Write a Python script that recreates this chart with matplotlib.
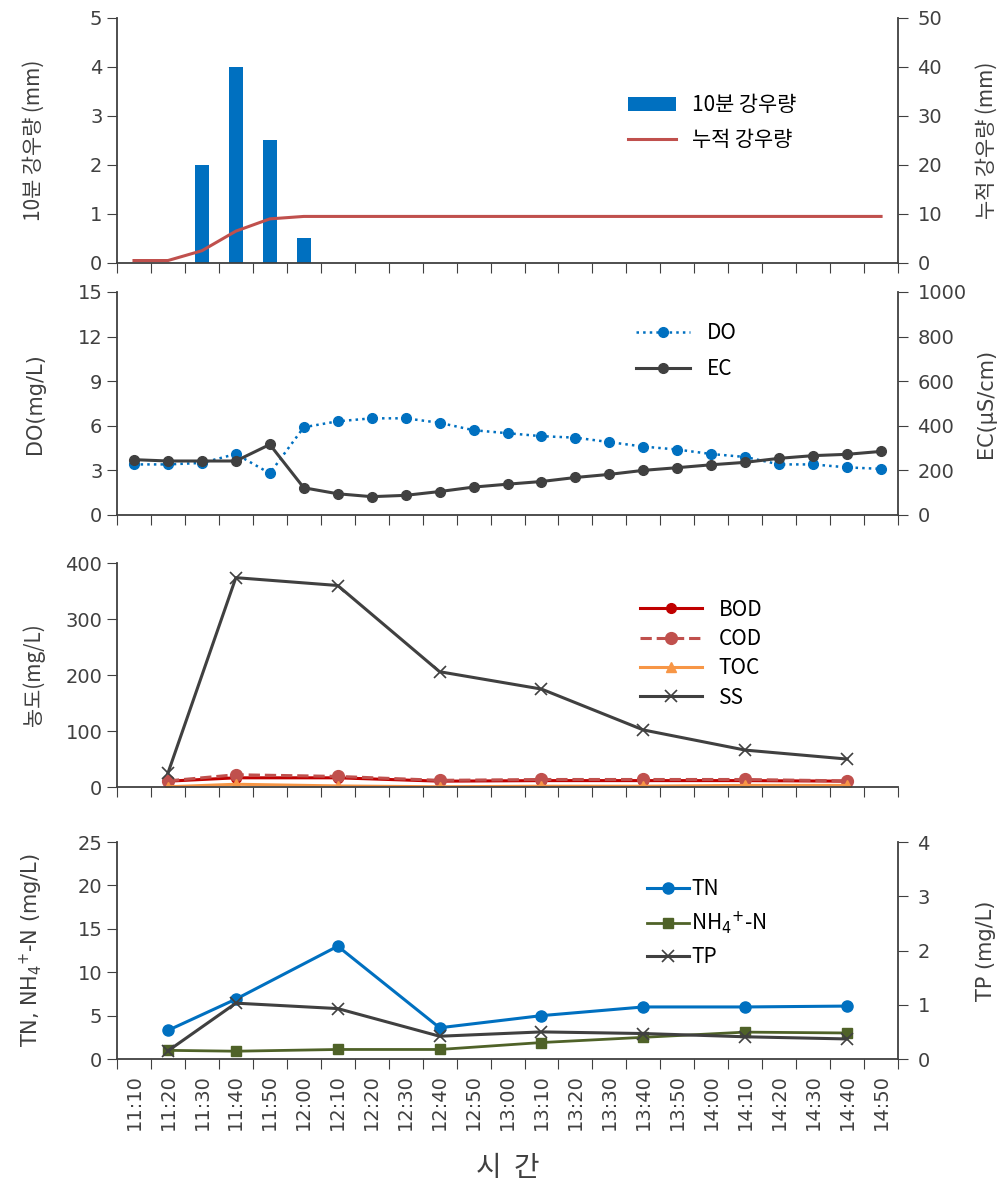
import numpy as np
import matplotlib
matplotlib.use("Agg")
from matplotlib import pyplot as plt

plt.rcParams['font.family'] = ['DejaVu Sans', 'Noto Sans CJK KR']
plt.rcParams['mathtext.fontset'] = 'dejavusans'

KR = ['Noto Sans CJK KR', 'DejaVu Sans']
INK = '#404040'

times = ['11:10', '11:20', '11:30', '11:40', '11:50', '12:00', '12:10', '12:20',
         '12:30', '12:40', '12:50', '13:00', '13:10', '13:20', '13:30', '13:40',
         '13:50', '14:00', '14:10', '14:20', '14:30', '14:40', '14:50']

# rainfall
rain_times = ['11:30', '11:40', '11:50', '12:00']
rain_10min = [2.0, 4.0, 2.5, 0.5]
rain_cum = [0.5, 0.5, 2.5, 6.5, 9.0, 9.5, 9.5, 9.5, 9.5, 9.5, 9.5, 9.5,
            9.5, 9.5, 9.5, 9.5, 9.5, 9.5, 9.5, 9.5, 9.5, 9.5, 9.5]

# DO / EC every 10 min
do_vals = [3.4, 3.4, 3.5, 4.1, 2.8, 5.9, 6.3, 6.5, 6.5, 6.2, 5.7, 5.5,
           5.3, 5.2, 4.9, 4.6, 4.4, 4.1, 3.9, 3.4, 3.4, 3.2, 3.1]
ec_vals = [248, 242, 242, 242, 316, 122, 95, 82, 88, 105, 125, 138,
           150, 168, 182, 200, 212, 225, 236, 254, 266, 272, 285]

# grab samples
sample_times = ['11:20', '11:40', '12:10', '12:40', '13:10', '13:40', '14:10', '14:40']
bod = [10.5, 16.5, 16.5, 10.5, 11.5, 11.5, 11.5, 10.5]
cod = [11, 22, 19, 12, 13.5, 13.5, 13.5, 11]
toc = [0.5, 5, 2, 0.5, 1.5, 1.5, 3, 3]
ss = [25, 374, 360, 206, 175, 102, 66, 50]
tn = [3.3, 6.9, 13.0, 3.6, 5.0, 6.0, 6.0, 6.1]
nh4 = [1.0, 0.9, 1.1, 1.1, 1.9, 2.5, 3.1, 3.0]
tp = [0.15, 1.03, 0.93, 0.42, 0.5, 0.47, 0.41, 0.37]

xi = np.arange(len(times))
x_rain = [times.index(t) for t in rain_times]
x_smp = [times.index(t) for t in sample_times]


def style_x(ax, labels=False):
    ax.set_xlim(-0.5, len(times) - 0.5)
    ax.set_xticks(np.arange(len(times) + 1) - 0.5)
    ax.set_xticklabels([])
    ax.tick_params(axis='x', which='major', direction='out', length=7, color=INK)
    if labels:
        ax.set_xticks(xi, minor=True)
        ax.set_xticklabels(times, minor=True, rotation=90, fontsize=14, color=INK)
        ax.tick_params(axis='x', which='minor', length=0, pad=11)


def style_left(ax):
    for s in ['top', 'right']:
        ax.spines[s].set_visible(False)
    for s in ['left', 'bottom']:
        ax.spines[s].set_color(INK)
        ax.spines[s].set_linewidth(1.3)
    ax.tick_params(axis='y', direction='out', length=7, labelsize=14, color=INK, labelcolor=INK)


def style_right(ax):
    for s in ['top', 'left', 'bottom']:
        ax.spines[s].set_visible(False)
    ax.spines['right'].set_color(INK)
    ax.spines['right'].set_linewidth(1.3)
    ax.tick_params(axis='y', direction='out', length=7, pad=7, labelsize=14, color=INK,
                   labelcolor=INK)


fig = plt.figure(figsize=(10.07, 11.83), dpi=100)
L, W = 0.1162, 0.7756
leg_font = {'family': KR, 'size': 15}

# panel 1 - rainfall
ax1 = fig.add_axes([L, 0.7777, W, 0.2071])
bars = ax1.bar(x_rain, rain_10min, width=0.4, color='#0070C0', label='10분 강우량')
ax1.set_ylim(0, 5)
ax1.set_yticks(range(0, 6))
style_left(ax1)
style_x(ax1)
ax1.set_ylabel('10분 강우량 (mm)', fontsize=15, family=KR, color=INK)
ax1b = ax1.twinx()
ln, = ax1b.plot(xi, rain_cum, color='#C0504D', lw=2.2, label='누적 강우량')
ax1b.set_ylim(0, 50)
ax1b.set_yticks(range(0, 51, 10))
style_right(ax1b)
ax1b.set_ylabel('누적 강우량 (mm)', fontsize=15, family=KR, color=INK)
ax1b.legend(handles=[bars, ln], loc='upper left', bbox_to_anchor=(0.63, 0.765),
            frameon=False, prop=leg_font, handlelength=2.3, labelspacing=0.6)

# panel 2 - DO / EC
ax2 = fig.add_axes([L, 0.5647, W, 0.1885])
h_do, = ax2.plot(xi, do_vals, ls=':', lw=1.8, color='#0070C0', marker='o', ms=7,
                 label='DO')
ax2.set_ylim(0, 15)
ax2.set_yticks(range(0, 16, 3))
style_left(ax2)
style_x(ax2)
ax2.set_ylabel('DO(mg/L)', fontsize=15, color=INK)
ax2b = ax2.twinx()
h_ec, = ax2b.plot(xi, ec_vals, ls='-', lw=2.2, color=INK, marker='o', ms=7, label='EC')
ax2b.set_ylim(0, 1000)
ax2b.set_yticks(range(0, 1001, 200))
style_right(ax2b)
ax2b.set_ylabel('EC(μS/cm)', fontsize=15, color=INK)
ax2b.legend(handles=[h_do, h_ec], loc='upper left', bbox_to_anchor=(0.64, 0.95),
            frameon=False, prop=leg_font, handlelength=2.6, labelspacing=0.7)

# panel 3 - organics / SS
ax3 = fig.add_axes([L, 0.3347, W, 0.1893])
ax3.plot(x_smp, bod, color='#C00000', lw=2.2, marker='o', ms=7, label='BOD')
ax3.plot(x_smp, cod, color='#C0504D', lw=2.2, ls='--', marker='o', ms=8.5, label='COD')
ax3.plot(x_smp, toc, color='#F79646', lw=2.2, marker='^', ms=7, label='TOC')
ax3.plot(x_smp, ss, color=INK, lw=2.2, marker='x', ms=9, mew=1.2, label='SS')
ax3.set_ylim(0, 400)
ax3.set_yticks(range(0, 401, 100))
style_left(ax3)
style_x(ax3)
ax3.set_ylabel('농도(mg/L)', fontsize=15, family=KR, color=INK)
ax3.legend(loc='upper left', bbox_to_anchor=(0.645, 0.925), frameon=False,
           prop=leg_font, handlelength=3.0, labelspacing=0.35)

# panel 4 - nutrients
ax4 = fig.add_axes([L, 0.1048, W, 0.1834])
h_tn, = ax4.plot(x_smp, tn, color='#0070C0', lw=2.2, marker='o', ms=8, label='TN')
h_nh, = ax4.plot(x_smp, nh4, color='#4F6228', lw=2.0, marker='s', ms=7.5,
                 label='NH$_4$$^{+}$-N')
ax4.set_ylim(0, 25)
ax4.set_yticks(range(0, 26, 5))
style_left(ax4)
style_x(ax4, labels=True)
ax4.set_ylabel('TN, NH$_4$$^{+}$-N (mg/L)', fontsize=15, color=INK)
ax4b = ax4.twinx()
h_tp, = ax4b.plot(x_smp, tp, color=INK, lw=2.2, marker='x', ms=9, mew=1.2, label='TP')
ax4b.set_ylim(0, 4)
ax4b.set_yticks(range(0, 5))
style_right(ax4b)
ax4b.set_ylabel('TP (mg/L)', fontsize=15, color=INK)
ax4b.legend(handles=[h_tn, h_nh, h_tp], loc='upper left', bbox_to_anchor=(0.655, 0.92),
            frameon=False, prop=leg_font, handlelength=2.0,
            handletextpad=0.1, labelspacing=0.45)
ax4.set_xlabel('시  간', fontsize=20, family=KR, color=INK, labelpad=16)

for a in (ax1, ax2, ax3, ax4):
    a.yaxis.set_label_coords(-0.092, 0.5)
for a in (ax1b, ax2b, ax4b):
    a.yaxis.set_label_coords(1.10, 0.5)

fig.savefig('out.png', dpi=100)
